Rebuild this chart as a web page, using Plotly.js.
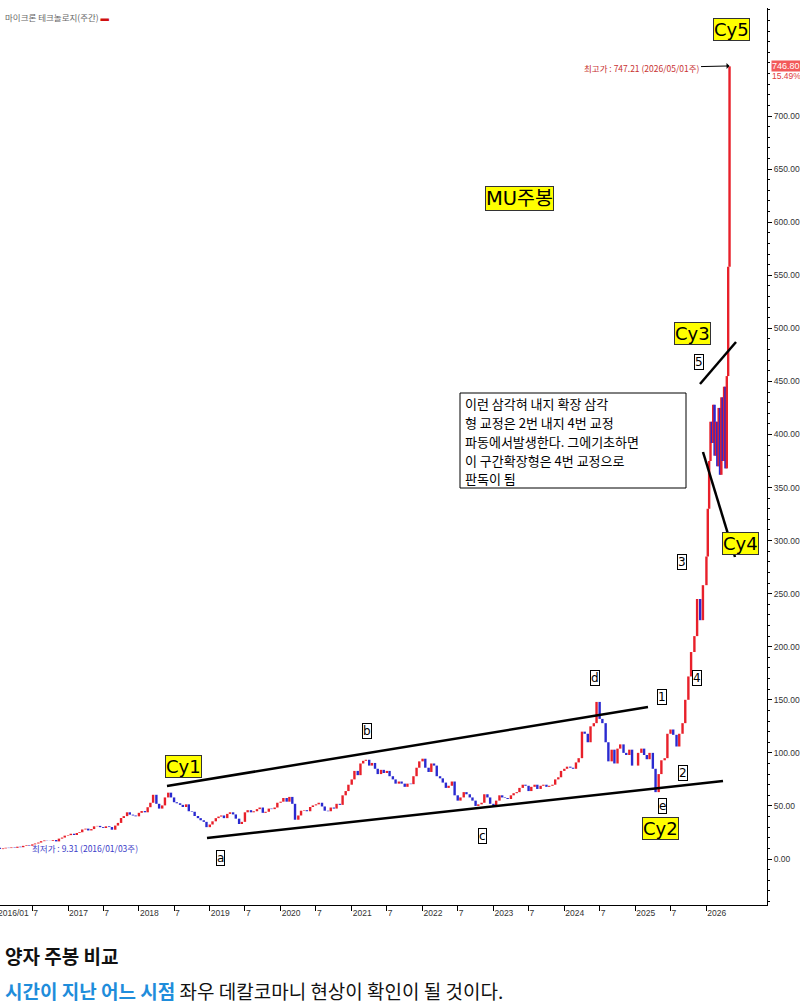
<!DOCTYPE html>
<html><head><meta charset="utf-8">
<script src="https://cdn.plot.ly/plotly-3.0.1.min.js"></script>
<style>
html,body{margin:0;padding:0;overflow:hidden;background:#fff;width:800px;height:1005px}
#chart{position:absolute;left:-5px;top:0;width:805px;height:1005px}
</style>
</head><body><div id="chart"></div>
<script>
// Semi-monthly closes (1st and 15th of each month)
const close2016 = [10.6, 9.31, 10.0, 10.6, 10.3, 10.9, 10.5, 11.6, 11.1, 12.4, 13.0, 12.5, 13.8, 14.6, 15.5, 16.8, 17.5, 17.3, 17.2, 17.9, 16.6, 19.2, 20.2, 22.0];
const close2017 = [22.5, 23.8, 22.6, 24.5, 25.2, 27.8, 28.6, 26.9, 28.2, 30.8, 31.2, 30.0, 29.2, 30.8, 30.1, 27.6, 31.5, 34.0, 38.6, 40.4, 44.0, 41.8, 41.0, 40.2];
const close2018 = [43.5, 45.2, 44.0, 48.8, 53.0, 60.5, 52.0, 47.5, 50.5, 58.0, 62.5, 58.0, 53.5, 52.5, 51.0, 49.0, 51.5, 45.0, 44.5, 40.5, 38.5, 36.5, 35.0, 30.0];
const close2019 = [32.5, 35.5, 38.5, 40.0, 41.0, 38.5, 42.5, 44.0, 42.0, 38.0, 33.0, 35.0, 44.0, 46.0, 44.0, 45.0, 47.0, 48.5, 43.5, 44.5, 47.5, 47.0, 48.5, 53.0];
const close2020 = [54.0, 57.5, 54.0, 58.5, 52.0, 37.0, 41.0, 45.5, 46.0, 45.0, 49.0, 50.5, 51.5, 53.0, 49.5, 45.5, 45.0, 48.5, 47.5, 52.0, 51.0, 60.0, 64.0, 70.0];
const close2021 = [75.0, 83.0, 79.0, 90.0, 92.5, 93.5, 88.0, 90.5, 85.0, 80.0, 84.0, 81.0, 83.0, 78.0, 75.0, 71.0, 73.0, 71.0, 68.0, 71.0, 70.5, 78.0, 86.0, 92.0];
const close2022 = [94.5, 86.0, 82.0, 90.0, 88.0, 78.0, 76.0, 72.0, 67.0, 69.0, 73.0, 60.0, 55.0, 58.0, 63.0, 61.0, 58.0, 55.0, 50.0, 51.5, 53.0, 61.0, 58.0, 52.0];
const close2023 = [50.0, 55.0, 60.0, 58.0, 57.5, 56.5, 60.0, 62.0, 63.0, 67.0, 70.0, 69.0, 64.0, 68.0, 70.0, 66.0, 69.0, 70.0, 68.0, 69.0, 70.0, 75.0, 77.0, 83.0];
const close2024 = [85.0, 87.0, 86.0, 85.0, 91.0, 95.0, 120.0, 118.0, 110.0, 125.0, 128.0, 148.0, 132.0, 128.0, 110.0, 92.0, 103.0, 90.0, 104.0, 108.0, 100.0, 98.0, 103.0, 88.0];
const close2025 = [88.0, 100.0, 104.0, 98.0, 94.0, 100.0, 85.0, 63.0, 80.0, 93.0, 95.0, 118.0, 122.0, 117.0, 106.0, 118.0, 128.0, 150.0, 172.0, 195.0, 210.0, 245.0, 225.0, 258.0];
// Weekly closes in 2026
const dates2026 = ['2026-01-02','2026-01-09','2026-01-16','2026-01-23','2026-01-30','2026-02-06','2026-02-13','2026-02-20','2026-02-27','2026-03-06','2026-03-13','2026-03-20','2026-03-27','2026-04-03','2026-04-10','2026-04-17','2026-04-24','2026-05-01'];
const close2026 = [285, 330, 375, 412, 392, 428, 380, 412, 370, 425, 362, 435, 375, 445, 368, 455, 558, 746.8];

const tickDates = ['2016-01-01','2016-07-01','2017-01-01','2017-07-01','2018-01-01','2018-07-01','2019-01-01','2019-07-01','2020-01-01','2020-07-01','2021-01-01','2021-07-01','2022-01-01','2022-07-01','2023-01-01','2023-07-01','2024-01-01','2024-07-01','2025-01-01','2025-07-01','2026-01-01'];
const tickLabels = ['2016/01','7','2017','7','2018','7','2019','7','2020','7','2021','7','2022','7','2023','7','2024','7','2025','7','2026'];
const yTicks = [0,50,100,150,200,250,300,350,400,450,500,550,600,650,700];

const noteLines = ['이런 삼각혀 내지 확장 삼각', '형 교정은 2번 내지 4번 교정', '파동에서발생한다. 그에기초하면', '이 구간확장형은 4번 교정으로', '판독이 됨'];

const yearly = [[2016,close2016],[2017,close2017],[2018,close2018],[2019,close2019],[2020,close2020],[2021,close2021],[2022,close2022],[2023,close2023],[2024,close2024],[2025,close2025]];
const X = [], C = [];
yearly.forEach(([yr, arr]) => {
  arr.forEach((v, i) => {
    const m = Math.floor(i / 2) + 1, d = (i % 2) ? 15 : 1;
    X.push(yr + '-' + String(m).padStart(2,'0') + '-' + String(d).padStart(2,'0'));
    C.push(v);
  });
});
dates2026.forEach((d, i) => { X.push(d); C.push(close2026[i]); });
const O = C.map((v, i) => i ? C[i-1] : v);
const H = C.map((v, i) => Math.max(v, O[i]));
const L = C.map((v, i) => Math.min(v, O[i]));

const PX = x => (x + 3) / 770;
const PY = y => (905 - y) / 897;

const trace = {
  type: 'ohlc', x: X, open: O, high: H, low: L, close: C,
  tickwidth: 0, hoverinfo: 'skip', showlegend: false,
  increasing: {line: {color: '#e8202a', width: 2.4}},
  decreasing: {line: {color: '#2a2ad0', width: 2.4}}
};

const KR = 'Noto Sans CJK KR';
const LAT = 'DejaVu Sans';
function ybox(text, x, y, size) {
  return {xref:'paper', yref:'paper', x:PX(x), y:PY(y), text:text, showarrow:false,
    xanchor:'center', yanchor:'middle', bgcolor:'#ffff00', bordercolor:'#333', borderwidth:1, borderpad:0,
    font:{family: LAT + ', ' + KR, size:size || 18, color:'#000'}};
}
function wbox(text, x, y) {
  return {xref:'paper', yref:'paper', x:PX(x), y:PY(y), text:text, showarrow:false,
    xanchor:'center', yanchor:'middle', bgcolor:'#fff', bordercolor:'#000', borderwidth:1, borderpad:0,
    font:{family: LAT, size:12, color:'#000'}};
}

const annotations = [
  {xref:'paper', yref:'paper', x:PX(3), y:PY(17), xanchor:'left', yanchor:'middle', showarrow:false,
   text:'마이크론 테크놀로지(주간) <span style="color:#d01010">▬</span>', font:{family:KR, size:8.5, color:'#666'}},
  ybox('Cy5', 731, 30),
  ybox('MU주봉', 519, 198, 19.5),
  ybox('Cy3', 692, 333),
  ybox('Cy4', 740, 543),
  ybox('Cy1', 183, 766),
  ybox('Cy2', 660, 828),
  wbox('5', 699, 362), wbox('3', 682, 562), wbox('4', 697, 678), wbox('1', 662, 697),
  wbox('d', 595, 678), wbox('b', 367, 731), wbox('2', 683, 773), wbox('e', 662, 806),
  wbox('c', 482, 836), wbox('a', 220, 858),
  {xref:'paper', yref:'paper', x:PX(463), y:PY(440.5), xanchor:'left', yanchor:'middle', align:'left', showarrow:false,
   text: noteLines.map(s => '<span style="font-size:13px">' + s + '</span>').join('<br>'),
   font:{family: KR, size:14.5, color:'#000'}},
  {x:'2026-05-01', y:747.21, xref:'x', yref:'y', text:'최고가 : 747.21 (2026/05/01주)', showarrow:true,
   ax:-88, ay:2, axref:'pixel', ayref:'pixel', arrowhead:1, arrowsize:1, arrowwidth:1, arrowcolor:'#000', standoff:0,
   font:{family:KR, size:8.5, color:'#c83232'}},
  {xref:'paper', yref:'paper', x:PX(30), y:PY(848), xanchor:'left', yanchor:'middle', showarrow:false,
   text:'최저가 : 9.31 (2016/01/03주)', font:{family:KR, size:8.5, color:'#3c3cc8'}},
  {xref:'paper', yref:'y', x:PX(771), y:746.8, xanchor:'left', yanchor:'middle', showarrow:false,
   text:'746.80', bgcolor:'#f25a5a', borderpad:0, font:{family:'Liberation Sans', size:9, color:'#fff'}},
  {xref:'paper', yref:'paper', x:PX(770), y:PY(76), xanchor:'left', yanchor:'middle', showarrow:false,
   text:'15.49%', font:{family:'Liberation Sans', size:8.5, color:'#e03c3c'}},
  {xref:'paper', yref:'paper', x:PX(3), y:PY(955), xanchor:'left', yanchor:'middle', showarrow:false,
   text:'<b>양자 주봉 비교</b>', font:{family:KR, size:19, color:'#111'}},
  {xref:'paper', yref:'paper', x:PX(3), y:PY(990), xanchor:'left', yanchor:'middle', showarrow:false,
   text:'<b><span style="color:#1f8ddb">시간이 지난 어느 시점</span></b> 좌우 데칼코마니 현상이 확인이 될 것이다.',
   font:{family:KR, size:19, color:'#111'}}
];

function seg(x0, y0, x1, y1) {
  return {type:'line', xref:'paper', yref:'paper', x0:PX(x0), y0:PY(y0), x1:PX(x1), y1:PY(y1),
    line:{color:'#000', width:2.5}};
}
const shapes = [
  seg(167, 786, 648, 707),
  seg(207, 838, 723, 781),
  seg(700, 384, 736, 342),
  seg(703, 452, 735, 557),
  {type:'rect', xref:'paper', yref:'paper', x0:PX(460), y0:PY(393), x1:PX(686), y1:PY(488),
   line:{color:'#000', width:1}, fillcolor:'#fff'}
];

const layout = {
  width: 805, height: 1005,
  margin: {l: 2, r: 33, t: 8, b: 100},
  paper_bgcolor: '#fff', plot_bgcolor: '#fff',
  showlegend: false,
  font: {family: 'Liberation Sans', size: 9, color: '#333'},
  xaxis: {
    type: 'date', range: ['2016-01-01', '2026-11-10'],
    tickmode: 'array', tickvals: tickDates, ticktext: tickLabels,
    ticks: 'outside', ticklen: 5, tickcolor: '#000', tickwidth: 1,
    ticklabelposition: 'outside right',
    showline: true, linecolor: '#000', linewidth: 1,
    showgrid: false, zeroline: false,
    tickfont: {family: 'Liberation Sans', size: 8.5, color: '#333'},
    rangeslider: {visible: false}, fixedrange: true
  },
  yaxis: {
    side: 'right', range: [-43.34, 801.8],
    tickmode: 'array', tickvals: yTicks, tickformat: '.2f',
    ticks: 'outside', ticklen: 4, tickcolor: '#000',
    minor: {tickmode: 'linear', tick0: 0, dtick: 10, ticks: 'outside', ticklen: 2, tickcolor: '#000', showgrid: false},
    showline: true, linecolor: '#000', linewidth: 1,
    showgrid: false, zeroline: false,
    tickfont: {family: 'Liberation Sans', size: 8.5, color: '#333'},
    fixedrange: true
  },
  annotations: annotations,
  shapes: shapes
};

Plotly.newPlot('chart', [trace], layout, {displayModeBar: false, staticPlot: true});
</script>
</body></html>
